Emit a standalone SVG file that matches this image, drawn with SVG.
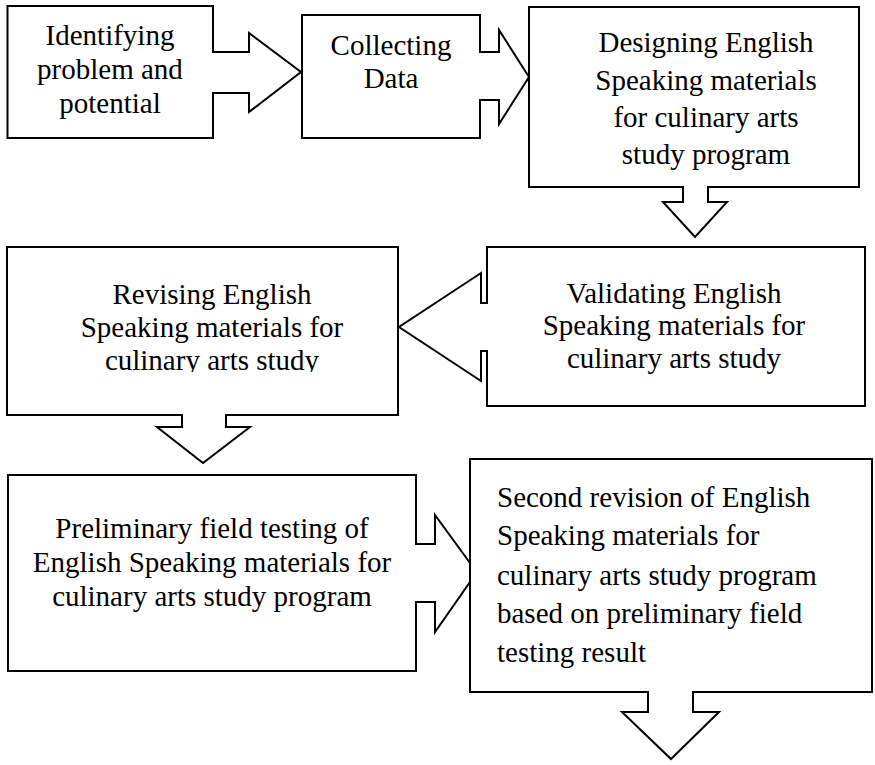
<svg xmlns="http://www.w3.org/2000/svg" width="875" height="765" viewBox="0 0 875 765">
<style>
.box{fill:#fff;stroke:#000;stroke-width:2}
.arr{fill:#fff;stroke:#000;stroke-width:2;stroke-linejoin:miter}
text{font-family:"Liberation Serif","Times New Roman",serif;font-size:29px;fill:#000}
.c{text-anchor:middle}
</style>
<defs>
<clipPath id="clipRev"><rect x="0" y="240" width="400" height="132"/></clipPath>
</defs>
<rect width="875" height="765" fill="#fff"/>
<g id="node1">
<rect class="box" x="7.5" y="6" width="205.5" height="132"/>
<text class="c" x="110" y="45">Identifying</text>
<text class="c" x="110" y="79">problem and</text>
<text class="c" x="110" y="113">potential</text>
</g>
<g id="node2">
<rect class="box" x="302" y="15" width="178" height="123"/>
<text class="c" x="391" y="55">Collecting</text>
<text class="c" x="391" y="88">Data</text>
</g>
<g id="node3">
<rect class="box" x="529" y="7" width="330" height="180"/>
<text class="c" x="706" y="52">Designing English</text>
<text class="c" x="706" y="90">Speaking materials</text>
<text class="c" x="706" y="127">for culinary arts</text>
<text class="c" x="706" y="164">study program</text>
</g>
<g id="node4">
<rect class="box" x="7" y="247" width="391" height="168"/>
<g clip-path="url(#clipRev)">
<text class="c" x="212" y="304">Revising English</text>
<text class="c" x="212" y="337">Speaking materials for</text>
<text class="c" x="212" y="370">culinary arts study</text>
</g>
</g>
<g id="node5">
<rect class="box" x="487" y="247" width="378" height="159"/>
<text class="c" x="674" y="303">Validating English</text>
<text class="c" x="674" y="335">Speaking materials for</text>
<text class="c" x="674" y="368">culinary arts study</text>
</g>
<g id="node6">
<rect class="box" x="8" y="475" width="408" height="196"/>
<text class="c" x="212" y="538">Preliminary field testing of</text>
<text class="c" x="212" y="572">English Speaking materials for</text>
<text class="c" x="212" y="606">culinary arts study program</text>
</g>
<g id="node7">
<rect class="box" x="470" y="459" width="402" height="233"/>
<text x="497" y="507">Second revision of English</text>
<text x="497" y="545">Speaking materials for</text>
<text x="497" y="585">culinary arts study program</text>
<text x="497" y="623">based on preliminary field</text>
<text x="497" y="662">testing result</text>
</g>
<g id="connectors">
<path class="arr" d="M212 52 H249 V33 L301 72 L249 112 V93 H212"/>
<path class="arr" d="M479 52 H499 V30 L529 77 L499 124 V100 H479"/>
<path class="arr" d="M683 186 V202 H663 L695 237 L727 202 H708 V186"/>
<path class="arr" d="M488 303 H481 V273 L399 327 L481 381 V351 H488"/>
<path class="arr" d="M182 414 V427 H157 L203 463 L250 427 H226 V414"/>
<path class="arr" d="M415 544 H435 V515 L470 563 V582 L435 632 V602 H415"/>
<path class="arr" d="M648 691 V712 H622 L671 759 L719 712 H693 V691"/>
</g>
</svg>
